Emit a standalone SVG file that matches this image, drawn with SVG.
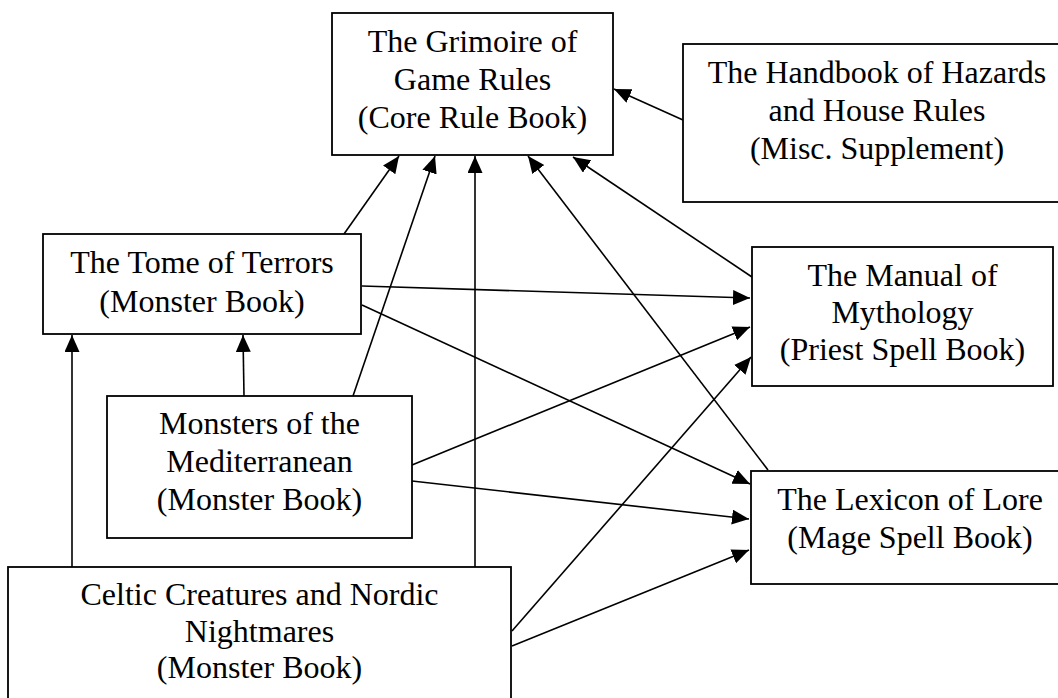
<svg xmlns="http://www.w3.org/2000/svg" width="1058" height="698" viewBox="0 0 1058 698">
<defs>
<style>
.box{fill:#fff;stroke:#000;stroke-width:1.8}
.lbl{font-family:"Liberation Serif","Times New Roman",serif;font-size:32px;fill:#000;text-anchor:middle}
.edge{stroke:#000;stroke-width:1.6;fill:none;marker-end:url(#ah)}
</style>
<marker id="ah" markerUnits="userSpaceOnUse" markerWidth="18" markerHeight="16" refX="17" refY="7.5" orient="auto">
<path d="M0,0 L17,7.5 L0,15 z" fill="#000"/>
</marker>
</defs>
<rect width="1058" height="698" fill="#fff"/>
<g id="connectors">
<line class="edge" x1="344" y1="234" x2="399" y2="156"/>
<line class="edge" x1="353" y1="396" x2="435" y2="156"/>
<line class="edge" x1="475" y1="567" x2="475" y2="156"/>
<line class="edge" x1="768" y1="470" x2="528" y2="156"/>
<line class="edge" x1="752" y1="277" x2="573" y2="157"/>
<line class="edge" x1="683" y1="120" x2="614" y2="89"/>
<line class="edge" x1="362" y1="286" x2="750" y2="298"/>
<line class="edge" x1="362" y1="305" x2="750" y2="484"/>
<line class="edge" x1="412" y1="465" x2="750" y2="327"/>
<line class="edge" x1="412" y1="481" x2="749" y2="519"/>
<line class="edge" x1="512" y1="631" x2="751" y2="357"/>
<line class="edge" x1="512" y1="646" x2="749" y2="550"/>
<line class="edge" x1="72" y1="567" x2="72" y2="335"/>
<line class="edge" x1="244" y1="396" x2="243" y2="335"/>
</g>
<g id="grimoire">
<rect class="box" x="332" y="13" width="281" height="142"/>
<text class="lbl" x="472.5" y="52">The Grimoire of</text>
<text class="lbl" x="472.5" y="90">Game Rules</text>
<text class="lbl" x="472.5" y="128">(Core Rule Book)</text>
</g>
<g id="handbook">
<rect class="box" x="683" y="44" width="390" height="158"/>
<text class="lbl" x="877" y="83">The Handbook of Hazards</text>
<text class="lbl" x="877" y="121">and House Rules</text>
<text class="lbl" x="877" y="159">(Misc. Supplement)</text>
</g>
<g id="tome">
<rect class="box" x="43" y="234" width="318" height="100"/>
<text class="lbl" x="202" y="273">The Tome of Terrors</text>
<text class="lbl" x="202" y="312">(Monster Book)</text>
</g>
<g id="manual">
<rect class="box" x="752" y="247" width="301" height="139"/>
<text class="lbl" x="902.5" y="286">The Manual of</text>
<text class="lbl" x="902.5" y="323">Mythology</text>
<text class="lbl" x="902.5" y="360">(Priest Spell Book)</text>
</g>
<g id="mediterranean">
<rect class="box" x="107" y="396" width="305" height="142"/>
<text class="lbl" x="259.5" y="434">Monsters of the</text>
<text class="lbl" x="259.5" y="472">Mediterranean</text>
<text class="lbl" x="259.5" y="510">(Monster Book)</text>
</g>
<g id="lexicon">
<rect class="box" x="751" y="471" width="330" height="113"/>
<text class="lbl" x="910" y="510">The Lexicon of Lore</text>
<text class="lbl" x="910" y="548">(Mage Spell Book)</text>
</g>
<g id="celtic">
<rect class="box" x="8" y="567" width="503" height="145"/>
<text class="lbl" x="259.5" y="605">Celtic Creatures and Nordic</text>
<text class="lbl" x="259.5" y="642">Nightmares</text>
<text class="lbl" x="259.5" y="678">(Monster Book)</text>
</g>
</svg>
